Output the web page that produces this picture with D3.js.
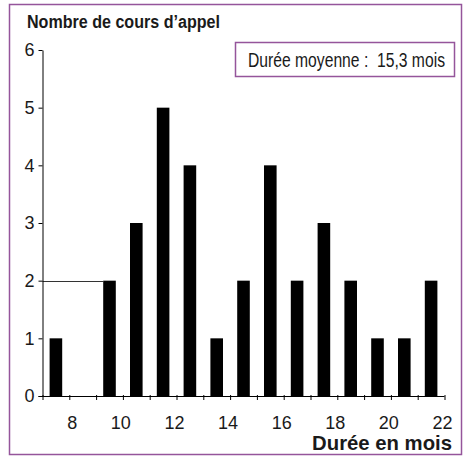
<!DOCTYPE html>
<html>
<head>
<meta charset="utf-8">
<script src="https://cdn.jsdelivr.net/npm/d3@7"></script>
<style>
  body { margin: 0; background: #fff; }
  svg text { fill: #1a1a1a; }
</style>
</head>
<body>
<div id="chart"></div>
<script>
// months (lower bound of each one-month bin) and counts
const months = [7, 8, 9, 10, 11, 12, 13, 14, 15, 16, 17, 18, 19, 20, 21];
const counts = [1, 0, 2, 3, 5, 4, 1, 2, 4, 2, 3, 2, 1, 1, 2];
const xTickLabels = [8, 10, 12, 14, 16, 18, 20, 22];
const yTicks = [0, 1, 2, 3, 4, 5, 6];
const meanText = "Durée moyenne :  15,3 mois";

const W = 465, H = 456;
const MARGIN = { LEFT: 42.5, RIGHT: 20.5, TOP: 50, BOTTOM: 60 };
const FONT = "'Liberation Sans', Arial, sans-serif";
const PURPLE = "#95559b";

const svg = d3.select("#chart").append("svg")
  .attr("width", W)
  .attr("height", H);

// squeeze a text horizontally to a given width (no condensed face installed)
function condensed(px, py, width, anchor, str, size, weight) {
  const g = svg.append("g");
  const t = g.append("text")
    .attr("font-family", FONT)
    .attr("font-size", size + "px")
    .attr("font-weight", weight)
    .attr("text-anchor", anchor)
    .style("white-space", "pre")
    .text(str);
  const k = width / t.node().getComputedTextLength();
  g.attr("transform", `translate(${px}, ${py}) scale(${k}, 1)`);
}

// frame
svg.append("rect")
  .attr("x", 9.5).attr("y", 4.5)
  .attr("width", 452).attr("height", 450)
  .attr("fill", "none")
  .attr("stroke", PURPLE)
  .attr("stroke-width", 1.5);

const x = d3.scaleLinear()
  .domain([7, 22])
  .range([MARGIN.LEFT, W - MARGIN.RIGHT]);

const xBand = d3.scaleBand()
  .domain(months)
  .range(x.range())
  .paddingInner(0.53)
  .paddingOuter(0.265);

const y = d3.scaleLinear()
  .domain([0, 6])
  .range([H - MARGIN.BOTTOM, MARGIN.TOP]);

// line at 2 from the axis to the first bar of height 2
svg.append("line")
  .attr("x1", x(7)).attr("x2", xBand(9))
  .attr("y1", Math.round(y(2)) + 0.5).attr("y2", Math.round(y(2)) + 0.5)
  .attr("stroke", "#333");

// bars
svg.selectAll("rect.bar")
  .data(months.map((m, i) => ({ m, c: counts[i] })).filter(d => d.c > 0))
  .enter().append("rect")
  .attr("class", "bar")
  .attr("x", d => xBand(d.m))
  .attr("y", d => y(d.c))
  .attr("width", xBand.bandwidth())
  .attr("height", d => y(0) - y(d.c))
  .attr("fill", "#000");

// y axis
const yAxis = svg.append("g")
  .attr("transform", `translate(${MARGIN.LEFT}, 0)`)
  .call(d3.axisLeft(y).tickValues(yTicks).tickFormat(d3.format("d"))
    .tickSize(4).tickSizeOuter(0).tickPadding(4));
yAxis.selectAll("text")
  .attr("font-family", FONT)
  .attr("font-size", "18px")
  .attr("fill", "#1a1a1a");

// x axis
const xAxis = svg.append("g")
  .attr("transform", `translate(0, ${y(0)})`)
  .call(d3.axisBottom(x).tickValues(d3.range(7, 23)).tickSize(4).tickSizeOuter(0).tickFormat(""));
xAxis.selectAll(".tick line").attr("y1", -1);
xAxis.select(".domain").attr("d", `M${MARGIN.LEFT - 4},0.5H${x(22)}`);

svg.append("g").selectAll("text")
  .data(xTickLabels)
  .enter().append("text")
  .attr("x", d => x(d) + 8)
  .attr("y", y(0) + 33)
  .attr("text-anchor", "end")
  .attr("font-family", FONT)
  .attr("font-size", "18px")
  .text(d => d);

// axis titles
condensed(27, 28, 193, "start", "Nombre de cours d\u2019appel", 19, "bold");
condensed(452, 450, 140, "end", "Durée en mois", 20, "bold");

// mean box
svg.append("rect")
  .attr("x", 235.5).attr("y", 42.5)
  .attr("width", 219).attr("height", 34)
  .attr("fill", "#fff")
  .attr("stroke", PURPLE)
  .attr("stroke-width", 1.5);

condensed(248, 67, 197, "start", meanText, 20, "normal");
</script>
</body>
</html>
